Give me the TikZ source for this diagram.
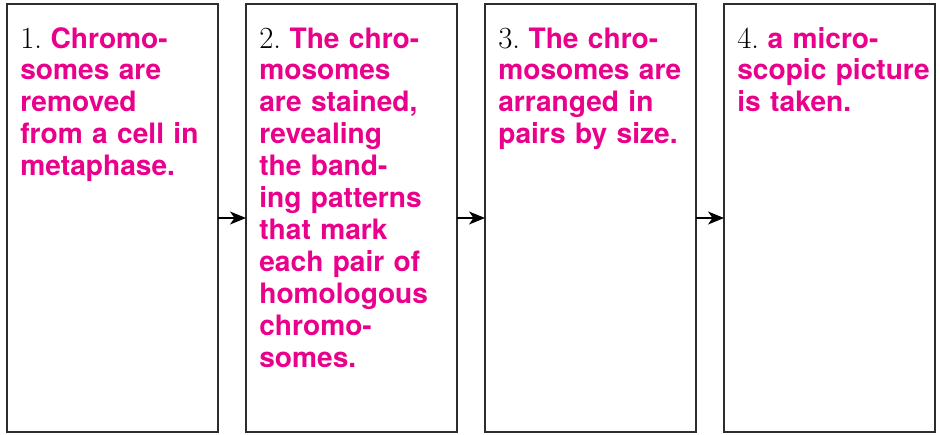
\documentclass[tikz,border=0pt]{standalone}
\usepackage{fontspec}
\usepackage{tikz}
\usepackage{xcolor}
\usetikzlibrary{arrows.meta, positioning}
\newfontfamily\headfont{TeX Gyre Heros}
\definecolor{cMagenta}{RGB}{233,0,139}
\definecolor{cFrame}{RGB}{45,45,45}
\tikzset{
	stepbox/.style ={rectangle, draw=cFrame, line width=1.4pt, minimum width=4.22cm, minimum height=8.56cm, outer sep=0pt, inner sep=0pt},
	steptext/.style={anchor=base west, inner sep=0pt, align=left, text width=3.95cm, font=\fontsize{16}{18.2}\selectfont\headfont\bfseries, text=cMagenta},
	flowarrow/.style={-{Stealth[length=3.2mm, width=2.6mm, inset=0.9mm]}, line width=0.7pt},
}
\newcommand{\stepno}[1]{{\fontsize{17.5}{18.2}\selectfont\rmfamily\mdseries\color{black}#1.}\hspace{0.3em}}

\begin{document}
\begin{tikzpicture}[node distance=0.56cm]
			\useasboundingbox (0,0) rectangle (18.8,-8.68);
			% the four boxes
			\node[stepbox] (rm) at (2.25,-4.36) {};
			\node[stepbox, right=of rm] (st) {};
			\node[stepbox, right=of st] (ar) {};
			\node[stepbox, right=of ar] (ph) {};
			% texts
			\node[steptext] (rmt) at ([xshift=0.26cm, yshift=-0.88cm]rm.north west) {\stepno{1}Chromo-\\somes are\\removed\\from a cell in\\metaphase.};
			\node[steptext] (stt) at ([xshift=0.26cm, yshift=-0.88cm]st.north west) {\stepno{2}The chro-\\mosomes\\are stained,\\revealing\\the band-\\ing patterns\\that mark\\each pair of\\homologous\\chromo-\\somes.};
			\node[steptext] (art) at ([xshift=0.26cm, yshift=-0.88cm]ar.north west) {\stepno{3}The chro-\\mosomes are\\arranged in\\pairs by size.};
			\node[steptext] (pht) at ([xshift=0.26cm, yshift=-0.88cm]ph.north west) {\stepno{4}a micro-\\scopic picture\\is taken.};
			\draw[flowarrow] (rm) -- (st); \draw[flowarrow] (st) -- (ar); \draw[flowarrow] (ar) -- (ph);
		\end{tikzpicture}
\end{document}
